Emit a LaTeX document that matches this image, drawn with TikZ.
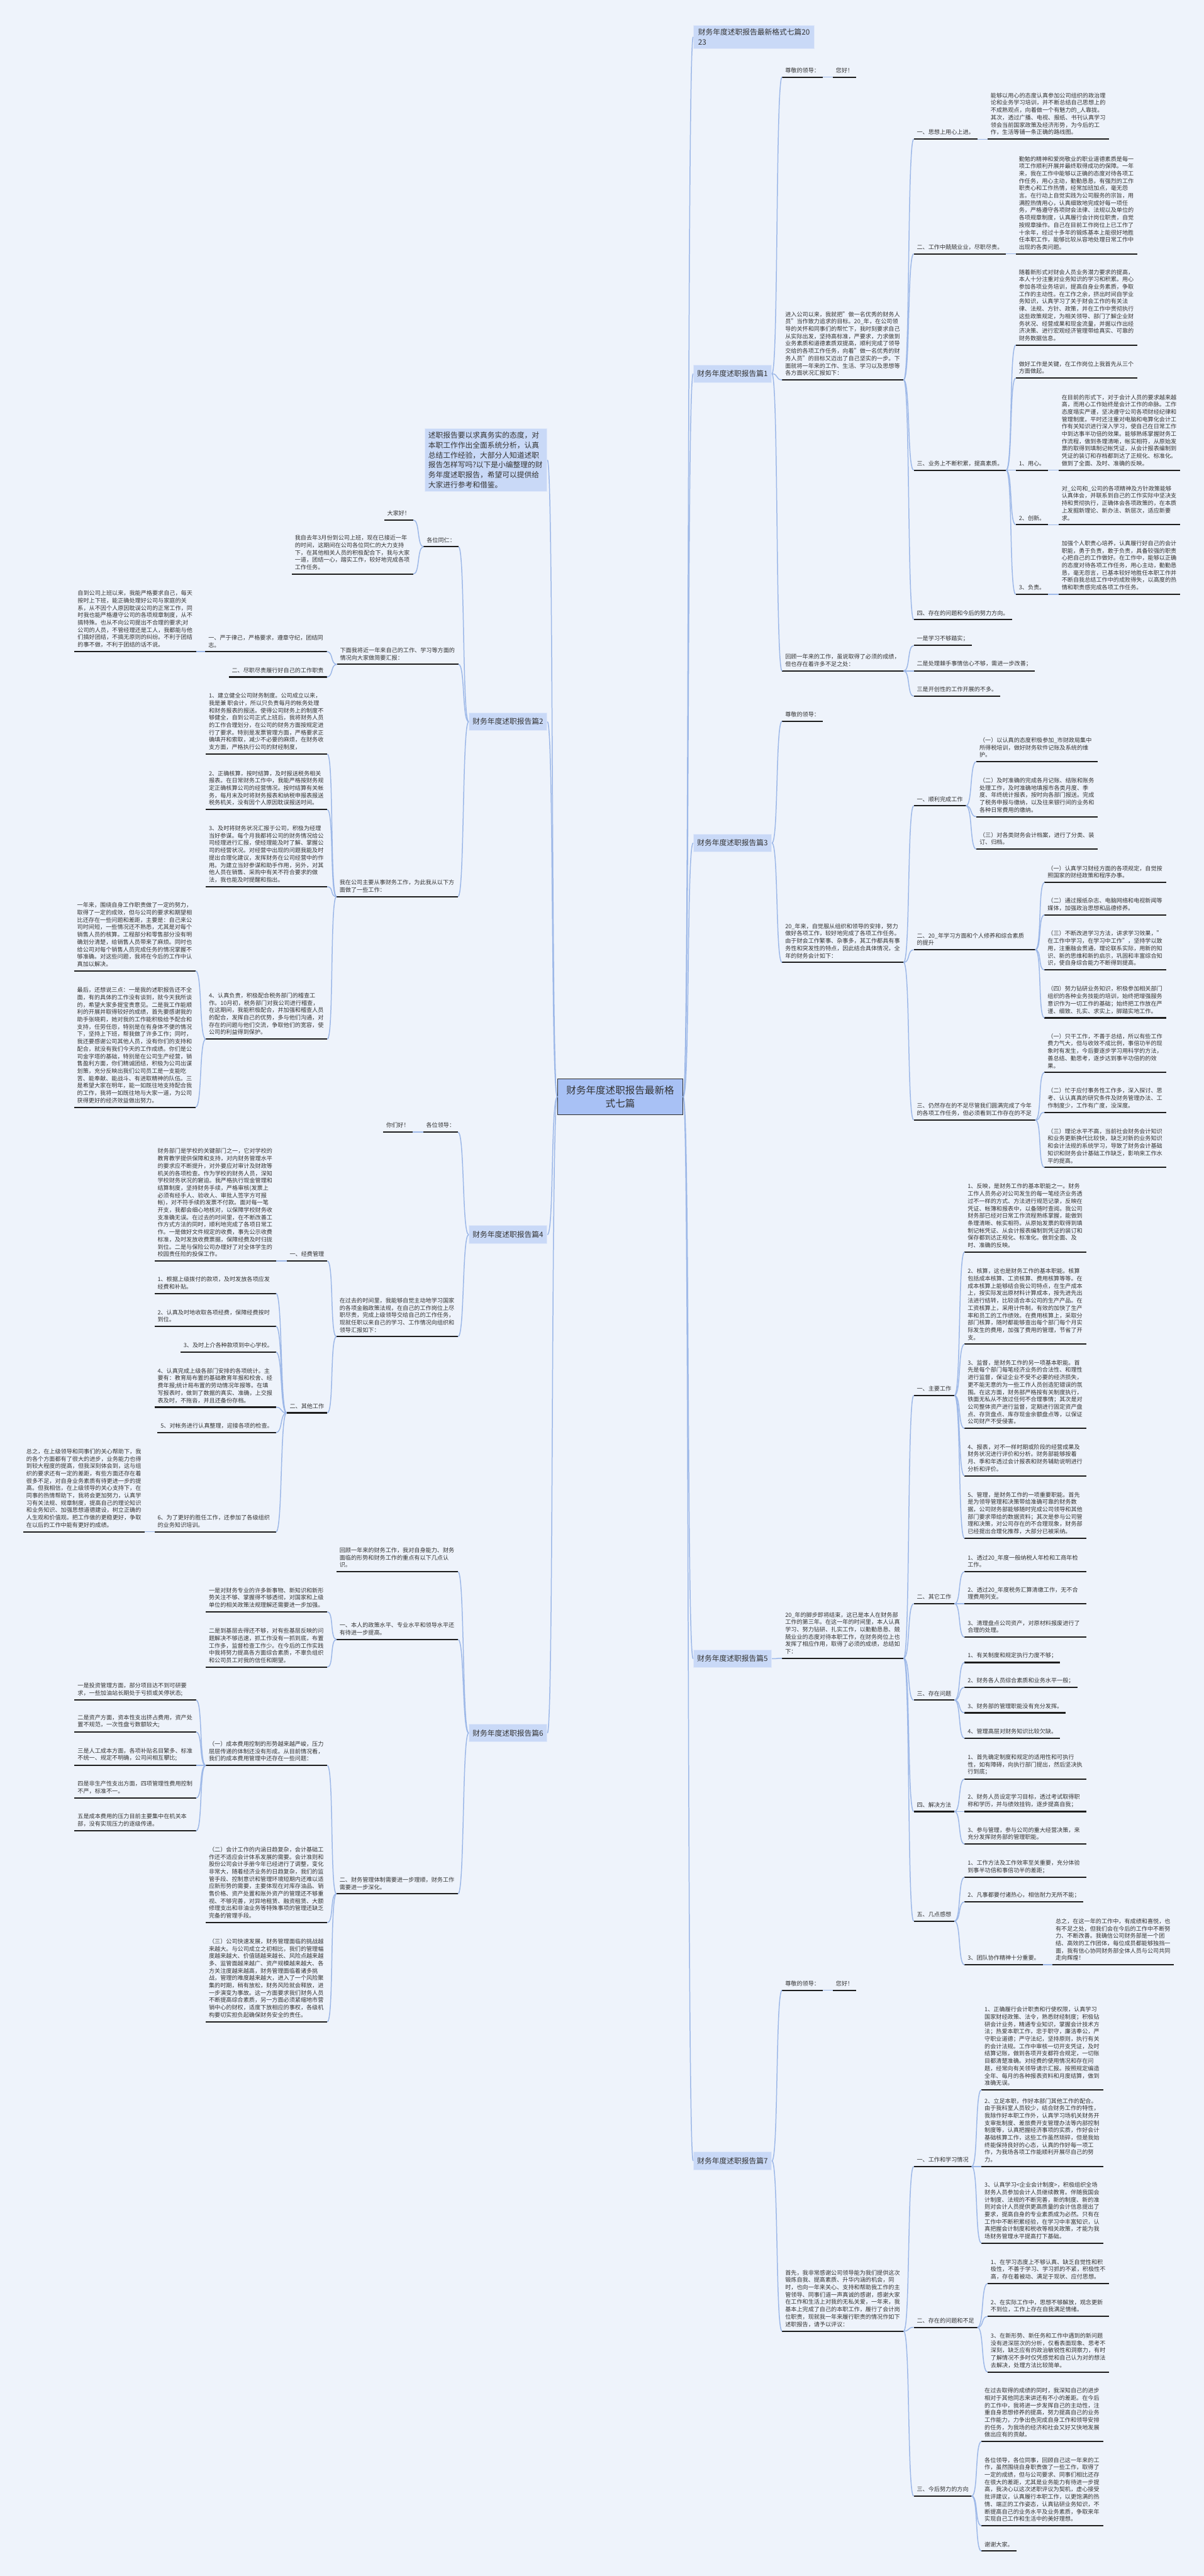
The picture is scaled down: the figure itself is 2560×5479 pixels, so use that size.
\documentclass[tikz,border=0pt]{standalone}
\usepackage{fontspec}
\setmainfont{Noto Sans CJK SC}
\XeTeXlinebreaklocale "zh"
\XeTeXlinebreakskip=0pt plus 0.5pt
\usepackage{tikz}
\definecolor{bgblue}{HTML}{EEF3FB}
\definecolor{linkblue}{HTML}{9DB8E8}
\definecolor{topicfill}{HTML}{C9D9F7}
\definecolor{topicdraw}{HTML}{E0E9FA}
\definecolor{rootfill}{HTML}{A8C1F5}
\definecolor{rootdraw}{HTML}{2A2A2A}
\definecolor{ulinecol}{HTML}{1C1C1C}
\definecolor{textgray}{HTML}{333333}
\newcommand\leaffont{\fontsize{3.47pt}{4.45pt}\selectfont}
\newcommand\topicfont{\fontsize{4.47pt}{5.8pt}\selectfont}
\newcommand\rootfont{\fontsize{5.92pt}{7.96pt}\selectfont}

\begin{document}
\begin{tikzpicture}[
  x=0.01cm, y=-0.01cm,
  uline/.style={draw=ulinecol, line width=0.028cm},
  lbl/.style={inner xsep=0.06cm, inner ysep=0.08cm, font=\leaffont, text=textgray, align=flush left,
    append after command={(\tikzlastnode.south west) edge[uline] (\tikzlastnode.south east)}},
  para/.style={lbl, text width=2.45cm},
  rnode/.style={anchor=south west},
  lnode/.style={anchor=south east},
  topic/.style={fill=topicfill, draw=topicdraw, line width=0.012cm, font=\topicfont, text=textgray, inner xsep=0.08cm, minimum height=0.34cm},
  rootbox/.style={fill=rootfill, draw=rootdraw, line width=0.015cm, font=\rootfont, text=textgray, align=center, minimum width=2.66cm, minimum height=0.76cm},
  link/.style={draw=linkblue, line width=0.02cm},
  rl/.style={to path={.. controls +(14,0) and +(-14,0) .. (\tikztotarget)}},
  ll/.style={to path={.. controls +(-14,0) and +(14,0) .. (\tikztotarget)}},
]
\useasboundingbox (0,0) rectangle (2560,5479);
\fill[bgblue] (0,0) rectangle (2560,5479);

%% Root and topics
\node[rootbox] (root) at (1319,2333) {财务年度述职报告最新格\\式七篇};
\node[topic, anchor=north west, align=left, inner xsep=0.1cm, inner ysep=0.08cm] (top) at (1474,53) {财务年度述职报告最新格式七篇20\\23};
\node[topic, anchor=north east, align=flush left, text width=2.45cm, inner xsep=0.075cm, inner ysep=0.07cm, font=\fontsize{4.47pt}{5.97pt}\selectfont] (intro) at (1164,911) {述职报告要以求真务实的态度，对本职工作作出全面系统分析，认真总结工作经验，大部分人知道述职报告怎样写吗?以下是小编整理的财务年度述职报告，希望可以提供给大家进行参考和借鉴。};
\node[topic, anchor=west] (p1) at (1474,795) {财务年度述职报告篇1};
\node[topic, anchor=west] (p3) at (1474,1793) {财务年度述职报告篇3};
\node[topic, anchor=west] (p5) at (1474,3528) {财务年度述职报告篇5};
\node[topic, anchor=west] (p7) at (1474,4596) {财务年度述职报告篇7};
\node[topic, anchor=east] (p2) at (1164,1535) {财务年度述职报告篇2};
\node[topic, anchor=east] (p4) at (1164,2626) {财务年度述职报告篇4};
\node[topic, anchor=east] (p6) at (1164,3686) {财务年度述职报告篇6};

%% Part 1
\node[lbl, rnode] (g1) at (1663,164) {尊敬的领导：};
\node[lbl, rnode] (g1x) at (1771,164) {您好！};
\node[para, rnode] (m1) at (1663,808) {进入公司以来，我就把"做一名优秀的财务人员"当作致力追求的目标。20\_年，在公司领导的关怀和同事们的帮忙下，我时刻要求自己从实际出发，坚持高标准，严要求，力求做到业务素质和道德素质双提高，顺利完成了领导交给的各项工作任务，向着"做一名优秀的财务人员"的目标又迈出了自己坚实的一步。下面就将一年来的工作、生活、学习以及思想等各方面状况汇报如下：};
\node[lbl, rnode] (m1a) at (1943,296) {一、思想上用心上进。};
\node[para, rnode] (m1a1) at (2100,296) {能够以用心的态度认真参加公司组织的政治理论和业务学习培训，并不断总结自己思想上的不成熟观点，向着做一个有魅力的\_人靠拢。其次，透过广播、电视、报纸、书刊认真学习领会当前国家政策及经济形势，为今后的工作，生活等铺一条正确的路线图。};
\node[lbl, rnode] (m1b) at (1943,540) {二、工作中兢兢业业，尽职尽责。};
\node[para, rnode] (m1b1) at (2160,540) {勤勉的精神和爱岗敬业的职业道德素质是每一项工作顺利开展并最终取得成功的保障。一年来，我在工作中能够以正确的态度对待各项工作任务，用心主动，勤勤恳恳，有强烈的工作职责心和工作热情，经常加班加点，毫无怨言。在行动上自觉实践为公司服务的宗旨，用满腔热情用心，认真细致地完成好每一项任务，严格遵守各项财会法律、法规以及单位的各项规章制度，认真履行会计岗位职责，自觉按规章操作。自己在目前工作岗位上已工作了十余年，经过十多年的锻炼基本上能很好地胜任本职工作，能够比较从容地处理日常工作中出现的各类问题。};
\node[lbl, rnode] (m1c) at (1943,1000) {三、业务上不断积累，提高素质。};
\node[para, rnode] (m1c1) at (2160,734) {随着新形式对财会人员业务潜力要求的提高，本人十分注重对业务知识的学习和积累。用心参加各项业务培训，提高自身业务素质，争取工作的主动性。在工作之余，挤出时间自学业务知识，认真学习了关于财会工作的有关法律、法规、方针、政策，并在工作中贯彻执行这些政策规定，为相关领导、部门了解企业财务状况、经营成果和现金流量，并据以作出经济决策、进行宏观经济管理带给真实、可靠的财务数据信息。};
\node[para, rnode] (m1c2) at (2160,804) {做好工作是关键，在工作岗位上我首先从三个方面做起。};
\node[lbl, rnode] (m1c3) at (2160,1000) {1、用心。};
\node[para, rnode] (m1c3a) at (2251,1000) {在目前的形式下，对于会计人员的要求越来越高，而用心工作始终是会计工作的命脉。工作态度塌实严谨，坚决遵守公司各项财经纪律和管理制度。平时还注重对电脑和电算化会计工作有关知识进行深入学习，使自己在日常工作中到达事半功倍的效果。能够熟练掌握财务工作流程，做到条理清晰，帐实相符，从原始发票的取得到填制记帐凭证，从会计报表编制到凭证的装订和存档都到达了正规化、标准化。做到了全面、及时、准确的反映。};
\node[lbl, rnode] (m1c4) at (2160,1116) {2、创新。};
\node[para, rnode] (m1c4a) at (2251,1116) {对\_公司和\_公司的各项精神及方针政策能够认真体会，并联系到自己的工作实际中坚决支持和贯彻执行，正确体会各项政策的，在本质上发掘新理论、新办法、新层次，适应新要求。};
\node[lbl, rnode] (m1c5) at (2160,1264) {3、负责。};
\node[para, rnode] (m1c5a) at (2251,1264) {加强个人职责心培养，认真履行好自己的会计职能，勇于负责，敢于负责，具备较强的职责心把自己的工作做好。在工作中，能够以正确的态度对待各项工作任务，用心主动，勤勤恳恳，毫无怨言，已基本较好地胜任本职工作并不断自我总结工作中的成败得失，以高度的热情和职责感完成各项工作任务。};
\node[lbl, rnode] (m1d) at (1943,1318) {四、存在的问题和今后的努力方向。};
\node[para, rnode] (s1) at (1663,1427) {回顾一年来的工作，虽说取得了必须的成绩，但也存在着许多不足之处：};
\node[lbl, rnode] (s1a) at (1943,1373) {一是学习不够踏实；};
\node[lbl, rnode] (s1b) at (1943,1427) {二是处理棘手事情信心不够，需进一步改善；};
\node[lbl, rnode] (s1c) at (1943,1481) {三是开创性的工作开展的不多。};

%% Part 3
\node[lbl, rnode] (g3) at (1663,1534) {尊敬的领导：};
\node[para, rnode] (m3) at (1663,2047) {20\_年来，自觉服从组织和领导的安排，努力做好各项工作，较好地完成了各项工作任务。由于财会工作繁事、杂事多，其工作都具有事务性和突发性的特点，因此结合具体情况，全年的财务会计如下：};
\node[lbl, rnode] (m3a) at (1943,1714) {一、顺利完成工作};
\node[para, rnode] (m3a1) at (2076,1620) {（一）以认真的态度积极参加\_市财政局集中所得税培训，做好财务软件记账及系统的维护。};
\node[para, rnode] (m3a2) at (2076,1737) {（二）及时准确的完成各月记账、结账和账务处理工作，及时准确地填报市各类月度、季度、年终统计报表，按时向各部门报送。完成了税务申报与缴纳，以及往来银行间的业务和各种日常费用的缴纳。};
\node[para, rnode] (m3a3) at (2076,1806) {（三）对各类财务会计档案，进行了分类、装订、归档。};
\node[para, rnode] (m3b) at (1943,2020) {二、20\_年学习方面和个人修养和综合素质\\的提升};
\node[para, rnode] (m3b1) at (2221,1877) {（一）认真学习财经方面的各项规定，自觉按照国家的财经政策和程序办事。};
\node[para, rnode] (m3b2) at (2221,1946) {（二）通过报纸杂志、电脑网络和电视新闻等媒体，加强政治思想和品德修养。};
\node[para, rnode] (m3b3) at (2221,2063) {（三）不断改进学习方法，讲求学习效果，"在工作中学习，在学习中工作"，坚持学以致用，注重融会贯通，理论联系实际，用新的知识、新的思维和新的启示，巩固和丰富综合知识，使自身综合能力不断得到提高。};
\node[para, rnode] (m3b4) at (2221,2165) {（四）努力钻研业务知识，积极参加相关部门组织的各种业务技能的培训，始终把增强服务意识作为一切工作的基础；始终把工作放在严谨、细致、扎实、求实上，脚踏实地工作。};
\node[para, rnode] (m3c) at (1943,2382) {三、仍然存在的不足尽管我们圆满完成了今年的各项工作任务，但必须看到工作存在的不足};
\node[para, rnode] (m3c1) at (2221,2281) {（一）只干工作，不善于总结，所以有些工作费力气大，但与收效不成比例，事倍功半的现象时有发生，今后要逐步学习用科学的方法，善总结、勤思考，逐步达到事半功倍的的效果。};
\node[para, rnode] (m3c2) at (2221,2366) {（二）忙于应付事务性工作多，深入探讨、思考、认认真真的研究条件及财务管理办法、工作制度少，工作有广度，没深度。};
\node[para, rnode] (m3c3) at (2221,2483) {（三）理论水平不高，当前社会财务会计知识和业务更新换代比较快，缺乏对新的业务知识和会计法规的系统学习，导致了财务会计基础知识和财务会计基础工作缺乏，影响来工作水平的提高。};

%% Part 5
\node[para, rnode] (m5) at (1663,3527) {20\_年的脚步即将结束，这已是本人在财务部工作的第三年。在这一年的时间里，本人认真学习、努力钻研、扎实工作，以勤勤恳恳、兢兢业业的态度对待本职工作，在财务岗位上也发挥了相应作用，取得了必须的成绩，总结如下：};
\node[lbl, rnode] (m5a) at (1943,2968) {一、主要工作};
\node[para, rnode] (m5a1) at (2051,2663) {1、反映，是财务工作的基本职能之一。财务工作人员务必对公司发生的每一笔经济业务透过不一样的方式、方法进行规范记录，反映在凭证、帐簿和报表中，以备随时查阅。我公司财务部已经对日常工作流程熟练掌握，能做到条理清晰、帐实相符。从原始发票的取得到填制记帐凭证、从会计报表编制到凭证的装订和保存都到达正规化、标准化。做到全面、及时、准确的反映。};
\node[para, rnode] (m5a2) at (2051,2859) {2、核算，这也是财务工作的基本职能。核算包括成本核算、工资核算、费用核算等等。在成本核算上能够结合我公司特点，在生产成本上，按实际发出原材料计算成本，按先进先出法进行结转，比较适合本公司的生产产品。在工资核算上，采用计件制，有效的加快了生产率和员工的工作绩效。在费用核算上，采取分部门核算，随时都能够查出每个部门每个月实际发生的费用，加强了费用的管理，节省了开支。};
\node[para, rnode] (m5a3) at (2051,3038) {3、监督，是财务工作的另一项基本职能。首先是每个部门每笔经济业务的合法性、和理性进行监督，保证企业不受不必要的经济损失，更不能无意的为一些工作人员创造犯错误的氛围。在这方面，财务部严格按有关制度执行，铁面无私从不放过任何不合理事情；其次是对公司整体资产进行监督，定期进行固定资产盘点、存货盘点、库存现金余额盘点等，以保证公司财产不受侵害。};
\node[para, rnode] (m5a4) at (2051,3139) {4、报表，对不一样时期或阶段的经营成果及财务状况进行评价和分析。财务部能够按着月、季和年透过会计报表和财务辅助说明进行分析和评价。};
\node[para, rnode] (m5a5) at (2051,3272) {5、管理，是财务工作的一项重要职能。首先是为领导管理和决策带给准确可靠的财务数据，公司财务部能够随时完成公司领导和其他部门要求带给的数据资料；其次是参与公司管理和决策，对公司存在的不合理现象，财务部已经提出合理化推荐，大部分已被采纳。};
\node[lbl, rnode] (m5b) at (1943,3411) {二、其它工作};
\node[para, rnode] (m5b1) at (2051,3343) {1、透过20\_年度一般纳税人年检和工商年检工作。};
\node[para, rnode] (m5b2) at (2051,3411) {2、透过20\_年度税务汇算清缴工作，无不合理费用列支。};
\node[para, rnode] (m5b3) at (2051,3482) {3、清理盘点公司资产，对原材料报废进行了合理的处理。};
\node[lbl, rnode] (m5c) at (1943,3616) {三、存在问题};
\node[lbl, rnode] (m5c1) at (2051,3536) {1、有关制度和规定执行力度不够；};
\node[lbl, rnode] (m5c2) at (2051,3589) {2、财务各人员综合素质和业务水平一般；};
\node[lbl, rnode] (m5c3) at (2051,3643) {3、财务部的管理职能没有充分发挥。};
\node[lbl, rnode] (m5c4) at (2051,3697) {4、管理高层对财务知识比较欠缺。};
\node[lbl, rnode] (m5d) at (1943,3853) {四、解决方法};
\node[para, rnode] (m5d1) at (2051,3784) {1、首先确定制度和规定的适用性和可执行性，如有障碍，向执行部门提出，然后坚决执行到底；};
\node[para, rnode] (m5d2) at (2051,3853) {2、财务人员设定学习目标，透过考试取得职称和学历，并与绩效挂钩，逐步提高自我；};
\node[para, rnode] (m5d3) at (2051,3922) {3、参与管理，参与公司的重大经营决策，来充分发挥财务部的管理职能。};
\node[lbl, rnode] (m5e) at (1943,4086) {五、几点感想};
\node[para, rnode] (m5e1) at (2051,3993) {1、工作方法及工作效率至关重要，充分体验到事半功倍和事倍功半的差距；};
\node[lbl, rnode] (m5e2) at (2051,4045) {2、凡事都要付诸热心，相信耐力无所不能；};
\node[lbl, rnode] (m5e3) at (2051,4179) {3、团队协作精神十分重要。};
\node[para, rnode] (m5e3a) at (2238,4179) {总之，在这一年的工作中，有成绩和喜悦，也有不足之处，但我们会在今后的工作中不断努力、不断改善。我确信公司财务部是一个团结、高效的工作团体，每位成员都能够独挡一面，我有信心协同财务部全体人员与公司共同走向辉煌！};

%% Part 7
\node[lbl, rnode] (g7) at (1663,4233) {尊敬的领导：};
\node[lbl, rnode] (g7x) at (1771,4233) {您好！};
\node[para, rnode] (m7) at (1663,4958) {首先，我非常感谢公司领导能为我们提供这次锻炼自我、提高素质、升华内涵的机会，同时，也向一年来关心、支持和帮助我工作的主管领导、同事们道一声真诚的感谢，感谢大家在工作和生活上对我的无私关爱，一年来，我基本上完成了自己的本职工作，履行了会计岗位职责，现就我一年来履行职责的情况作如下述职报告，请予以评议：};
\node[lbl, rnode] (m7a) at (1943,4608) {一、工作和学习情况};
\node[para, rnode] (m7a1) at (2087,4445) {1、正确履行会计职责和行使权限，认真学习国家财经政策、法令，熟悉财经制度；积极钻研会计业务，精通专业知识，掌握会计技术方法；热爱本职工作，忠于职守，廉洁奉公，严守职业道德；严守法纪，坚持原则，执行有关的会计法规。工作中审核一切开支凭证，及时结算记账，做到各项开支都符合规定，一切账目都清楚准确。对经费的使用情况和存在问题，经常向有关领导请示汇报。按照规定编造全年、每月的各种报表资料和月度结算，做到准确无误。};
\node[para, rnode] (m7a2) at (2087,4608) {2、立足本职，作好本部门其他工作的配合。由于我科室人员较少，结合财务工作的特性，我除作好本职工作外，认真学习场机关财务开支审批制度、差旅费开支管理办法等内部控制制度等，认真把握经济事项的实质，作好会计基础核算工作，这些工作虽然琐碎，但是我始终能保持良好的心态，认真的作好每一项工作，为我场各项工作能顺利开展尽自己的努力。};
\node[para, rnode] (m7a3) at (2087,4771) {3、认真学习<企业会计制度>，积极组织全场财务人员参加会计人员继续教育。伴随我国会计制度、法规的不断完善，新的制度、新的准则对会计人员提供更高质量的会计信息提出了要求，提高自身的专业素质成为必然。只有在工作中不断积累经验，在学习中丰富知识，认真把握会计制度和税收等相关政策，才能为我场财务管理水平提高打下基础。};
\node[lbl, rnode] (m7b) at (1943,4950) {二、存在的问题和不足};
\node[para, rnode] (m7b1) at (2100,4857) {1、在学习态度上不够认真、缺乏自觉性和积极性，不善于学习、学习抓的不紧，积极性不高，存在着被动、满足于现状、应付思想。};
\node[para, rnode] (m7b2) at (2100,4927) {2、在实际工作中，思想不够解放，观念更新不到位，工作上存在自我满足情绪。};
\node[para, rnode] (m7b3) at (2100,5045) {3、在新形势、新任务和工作中遇到的新问题没有进深层次的分析，仅看表面现象、思考不深刻，缺乏应有的政治敏锐性和洞察力，有时了解情况不多时仅凭感觉和自己认为对的想法去解决，处理方法比较简单。};
\node[lbl, rnode] (m7c) at (1943,5309) {三、今后努力的方向};
\node[para, rnode] (m7c1) at (2087,5193) {在过去取得的成绩的同时，我深知自己的进步相对于其他同志来讲还有不小的差距。在今后的工作中，我将进一步发挥自己的主动性，注重自身思想修养的提高，努力提高自己的业务工作能力，力争出色完成自身工作和领导安排的任务，为我场的经济和社会又好又快地发展做出应有的贡献。};
\node[para, rnode] (m7c2) at (2087,5372) {各位领导，各位同事，回顾自己这一年来的工作，虽然围绕自身职责做了一些工作，取得了一定的成绩，但与公司要求、同事们相比还存在很大的差距，尤其是业务能力有待进一步提高，我决心以这次述职评议为契机，虚心接受批评建议，认真履行本职工作，以更饱满的热情、端正的工作姿态，认真钻研业务知识，不断提高自己的业务水平及业务素质，争取来年实现自己工作和生活中的美好理想。};
\node[lbl, rnode] (m7c3) at (2087,5426) {谢谢大家。};

%% Part 2
\node[lbl, lnode] (g2) at (975,1163) {各位同仁：};
\node[lbl, lnode] (g2a) at (879,1106) {大家好！};
\node[para, lnode] (g2b) at (879,1221) {我自去年3月份到公司上班，现在已接近一年的时间，这期间在公司各位同仁的大力支持下，在其他相关人员的积极配合下，我与大家一道，团结一心，踏实工作，较好地完成各项工作任务。};
\node[para, lnode] (m2) at (975,1413) {下面我将近一年来自己的工作、学习等方面的情况向大家做简要汇报：};
\node[para, lnode] (m2a) at (695,1386) {一、严于律己，严格要求，遵章守纪，团结同志。};
\node[para, lnode] (m2a1) at (417,1386) {自到公司上班以来，我能严格要求自己，每天按时上下班，能正确处理好公司与家庭的关系，从不因个人原因耽误公司的正常工作，同时我也能严格遵守公司的各项规章制度，从不搞特殊。也从不向公司提出不合理的要求;对公司的人员，不管经理还是工人，我都能与他们搞好团结，不搞无原则的纠纷。不利于团结的事不做，不利于团结的话不说。};
\node[lbl, lnode] (m2b) at (695,1440) {二、尽职尽责履行好自己的工作职责};
\node[para, lnode] (s2) at (974,1907) {我在公司主要从事财务工作，为此我从以下方面做了一些工作：};
\node[para, lnode] (s2a) at (696,1604) {1、建立健全公司财务制度。公司成立以来，我是兼 职会计，所以只负责每月的帐务处理和财务报表的报送。使得公司财务上的制度不够健全，自到公司正式上班后，我将财务人员的工作合理划分，在公司的财务方面按规定进行了要求。特别是发票管理方面，严格要求正确填开和索取，减少不必要的麻烦，在财务收支方面，严格执行公司的财经制度，};
\node[para, lnode] (s2b) at (696,1722) {2、正确核算，按时结算，及时报送税务相关报表。在日常财务工作中，我能严格按财务规定正确核算公司的经营情况。按时结算有关帐务，每月末及时将财务报表和纳税申报表报送税务机关，没有因个人原因耽误报送时间。};
\node[para, lnode] (s2c) at (696,1886) {3、及时将财务状况汇报于公司，积极为经理当好参谋。每个月我都将公司的财务情况给公司经理进行汇报，使经理能及时了解、掌握公司的经营状况。对经营中出现的问题我能及时提出合理化建议，发挥财务在公司经营中的作用。为建立当好参谋和助手作用，另外，对其他人员在销售、采购中有关不符合要求的做法，我也能及时提醒和指出。};
\node[para, lnode] (s2d) at (696,2210) {4、认真负责，积极配合税务部门的稽查工作。10月初，税务部门对我公司进行稽查，在这期间，我能积极配合，并加强和稽查人员的配合，发挥自己的优势，多与他们沟通，对存在的问题与他们交流，争取他们的宽容，使公司的利益得到保护。};
\node[para, lnode] (s2d1) at (416,2065) {一年来，围绕自身工作职责做了一定的努力，取得了一定的成效，但与公司的要求和期望相比还存在一些问题和差距，主要是：自己来公司时间短，一些情况还不熟悉，尤其是对每个销售人员的核算。工程部分和零售部分没有明确划分清楚，给销售人员带来了麻烦。同时也给公司对每个销售人员完成任务的情况掌握不够准确。对这些问题，我将在今后的工作中认真加以解决。};
\node[para, lnode] (s2d2) at (416,2355) {最后，还想说三点：一是我的述职报告还不全面，有的具体的工作没有谈到，就今天我所谈的，希望大家多提宝贵意见。二是我工作能顺利的开展并取得较好的成绩，首先要感谢我的助手张晓莉，她对我的工作能积极给予配合和支持，任劳任怨，特别是在有身体不便的情况下，坚持上下班，帮我做了许多工作；同时，我还要感谢公司其他人员，没有你们的支持和配合，就没有我们今天的工作成绩。你们是公司金字塔的基础，特别是在公司生产经营，销售盈利方面，你们精诚团结，积极为公司出谋划策，充分反映出我们公司员工是一支能吃苦、能奉献、能战斗、有进取精神的队伍。三是希望大家在明年，能一如既往地支持配合我的工作，我将一如既往地与大家一道，为公司获得更好的经济效益做出努力。};

%% Part 4
\node[lbl, lnode] (g4) at (974,2408) {各位领导：};
\node[lbl, lnode] (g4a) at (877,2408) {你们好！};
\node[para, lnode] (m4) at (974,2843) {在过去的时间里，我能够自觉主动地学习国家的各项金融政策法规，在自己的工作岗位上尽职尽责，完成上级领导交给自己的工作任务，现就任职以来自己的学习、工作情况向组织和领导汇报如下：};
\node[lbl, lnode] (m4a) at (696,2682) {一、经费管理};
\node[para, lnode] (m4a1) at (587,2682) {财务部门是学校的关键部门之一，它对学校的教育教学提供保障和支持，对内财务管理水平的要求应不断提升，对外要应对审计及财政等机关的各项检查。作为学校的财务人员，深知学校财务状况的窘迫。我严格执行现金管理和结算制度，坚持财务手续，严格审核(发票上必须有经手人、验收人、审批人签字方可报帐)，对不符手续的发票不付款。面对每一笔开支，我都会细心地核对，以保障学校财务收支准确无误。在过去的时间里，在不断改善工作方式方法的同时，顺利地完成了各项日常工作。一是做好文件规定的收费，事先公示收费标准，及时发放收费票据，保障经费及时归拢到位。二是与保险公司办理好了对全体学生的校园责任险的投保工作。};
\node[lbl, lnode] (m4b) at (696,3005) {二、其他工作};
\node[para, lnode] (m4b1) at (587,2751) {1、根据上级拨付的款项，及时发放各项应发经费和补贴。};
\node[para, lnode] (m4b2) at (587,2821) {2、认真及时地收取各项经费，保障经费按时到位。};
\node[lbl, lnode] (m4b3) at (587,2876) {3、及时上介各种款项到中心学校。};
\node[para, lnode] (m4b4) at (587,2993) {4、认真完成上级各部门安排的各项统计。主要有：教育局布置的基础教育年报和校舍、经费年报;统计局布置的劳动情况年报等。在填写报表时，做到了数据的真实、准确，上交报表及时，不拖沓，并且还备份存档。};
\node[lbl, lnode] (m4b5) at (587,3047) {5、对帐务进行认真整理，迎接各项的检查。};
\node[para, lnode] (m4b6) at (587,3258) {6、为了更好的胜任工作，还参加了各级组织的业务知识培训。};
\node[para, lnode] (m4b6a) at (308,3258) {总之，在上级领导和同事们的关心帮助下，我的各个方面都有了很大的进步，业务能力也得到较大程度的提高，但我深刻体会到，这与组织的要求还有一定的差距，有些方面还存在着很多不足，对自身业务素质有待更进一步的提高。但我相信，在上级领导的关心支持下，在同事的热情帮助下，我将会更加努力，认真学习有关法规、规章制度，提高自己的理论知识和业务知识、加强思想道德建设，树立正确的人生观和价值观。把工作做的更稳更好，争取在以后的工作中能有更好的成绩。};

%% Part 6
\node[para, lnode] (m6a) at (974,3343) {回顾一年来的财务工作，我对自身能力、财务面临的形势和财务工作的重点有以下几点认识。};
\node[para, lnode] (m6b) at (974,3487) {一、本人的政策水平、专业水平和领导水平还有待进一步提高。};
\node[para, lnode] (m6b1) at (696,3428) {一是对财务专业的许多新事物、新知识和新形势关注不够、掌握得不够透彻，对国家和上级单位的相关政策法规理解还需要进一步加强。};
\node[para, lnode] (m6b2) at (696,3546) {二是到基层去得还不够，对有些基层反映的问题解决不够迅速，抓工作没有一抓到底，布置工作多，监督检查工作少。在今后的工作实践中我将努力提高各方面综合素质，不辜负组织和公司员工对我的信任和期望。};
\node[para, lnode] (m6c) at (974,4028) {二、财务管理体制需要进一步理顺，财务工作需要进一步深化。};
\node[para, lnode] (m6c1) at (696,3755) {（一）成本费用控制的形势越来越严峻，压力层层传递的体制还没有形成。从目前情况看，我们的成本费用管理中还存在一些问题：};
\node[para, lnode] (m6c1a) at (417,3616) {一是投资管理方面，部分项目达不到可研要求，一些加油站长期处于亏损或关停状态;};
\node[para, lnode] (m6c1b) at (417,3684) {二是资产方面，资本性支出挤占费用，资产处置不规范，一次性盘亏数额较大;};
\node[para, lnode] (m6c1c) at (417,3755) {三是人工成本方面，各项补贴名目繁多、标准不统一、规定不明确，公司间相互攀比;};
\node[para, lnode] (m6c1d) at (417,3824) {四是非生产性支出方面，四项管理性费用控制不严，标准不一。};
\node[para, lnode] (m6c1e) at (417,3894) {五是成本费用的压力目前主要集中在机关本部，没有实现压力的逐级传递。};
\node[para, lnode] (m6c2) at (696,4089) {（二）会计工作的内涵日趋复杂，会计基础工作还不适应会计体系发展的需要。会计准则和股份公司会计手册今年已经进行了调整，变化非常大，随着经济业务的日趋复杂，我们的监管手段、控制意识和管理环境短期内还难以适应新形势的需要，主要体现在对库存油品、销售价格、资产处置和账外资产的管理还不够重视、不够完善，对异地租赁、融资租赁、大额修理支出和非油业务等特殊事项的管理还缺乏完备的管理手段。};
\node[para, lnode] (m6c3) at (696,4300) {（三）公司快速发展，财务管理面临的挑战越来越大。与公司成立之初相比，我们的管理幅度越来越大、价值链越来越长、风险点越来越多、监管面越来越广、资产规模越来越大、各方关注度越来越高，财务管理面临着诸多挑战，管理的难度越来越大，进入了一个风险聚集的时期，稍有放松，财务风险就会释放，进一步演变为事故。这一方面要求我们财务人员不断提高综合素质，另一方面必须紧缩地市营销中心的财权，适度下放相应的事权，各级机构要切实担负起确保财务安全的责任。};

%% Links
\foreach \b in {top,p1,p3,p5,p7}
  \draw[link] (root.east) to[rl] (\b.west);
\foreach \b in {intro,p2,p4,p6}
  \draw[link] (root.west) to[ll] (\b.east);
\foreach \a/\b in {p1/g1,p1/m1,p1/s1,p3/g3,p3/m3,p5/m5,p7/g7,p7/m7}
  \draw[link] (\a.east) to[rl] (\b.south west);
\foreach \a/\b in {p2/g2,p2/m2,p2/s2,p4/g4,p4/m4,p6/m6a,p6/m6b,p6/m6c}
  \draw[link] (\a.west) to[ll] (\b.south east);
\foreach \a/\b in {g1/g1x,m1/m1a,m1/m1b,m1/m1c,m1/m1d,m1a/m1a1,m1b/m1b1,m1c/m1c1,m1c/m1c2,m1c/m1c3,m1c/m1c4,m1c/m1c5,m1c3/m1c3a,m1c4/m1c4a,m1c5/m1c5a,s1/s1a,s1/s1b,s1/s1c,
    m3/m3a,m3/m3b,m3/m3c,m3a/m3a1,m3a/m3a2,m3a/m3a3,m3b/m3b1,m3b/m3b2,m3b/m3b3,m3b/m3b4,m3c/m3c1,m3c/m3c2,m3c/m3c3,
    m5/m5a,m5/m5b,m5/m5c,m5/m5d,m5/m5e,m5a/m5a1,m5a/m5a2,m5a/m5a3,m5a/m5a4,m5a/m5a5,m5b/m5b1,m5b/m5b2,m5b/m5b3,m5c/m5c1,m5c/m5c2,m5c/m5c3,m5c/m5c4,m5d/m5d1,m5d/m5d2,m5d/m5d3,m5e/m5e1,m5e/m5e2,m5e/m5e3,m5e3/m5e3a,
    g7/g7x,m7/m7a,m7/m7b,m7/m7c,m7a/m7a1,m7a/m7a2,m7a/m7a3,m7b/m7b1,m7b/m7b2,m7b/m7b3,m7c/m7c1,m7c/m7c2,m7c/m7c3}
  \draw[link] (\a.south east) to[rl] (\b.south west);
\foreach \a/\b in {g2/g2a,g2/g2b,m2/m2a,m2/m2b,m2a/m2a1,s2/s2a,s2/s2b,s2/s2c,s2/s2d,s2d/s2d1,s2d/s2d2,
    g4/g4a,m4/m4a,m4/m4b,m4a/m4a1,m4b/m4b1,m4b/m4b2,m4b/m4b3,m4b/m4b4,m4b/m4b5,m4b/m4b6,m4b6/m4b6a,
    m6b/m6b1,m6b/m6b2,m6c/m6c1,m6c/m6c2,m6c/m6c3,m6c1/m6c1a,m6c1/m6c1b,m6c1/m6c1c,m6c1/m6c1d,m6c1/m6c1e}
  \draw[link] (\a.south west) to[ll] (\b.south east);

\end{tikzpicture}
\end{document}
